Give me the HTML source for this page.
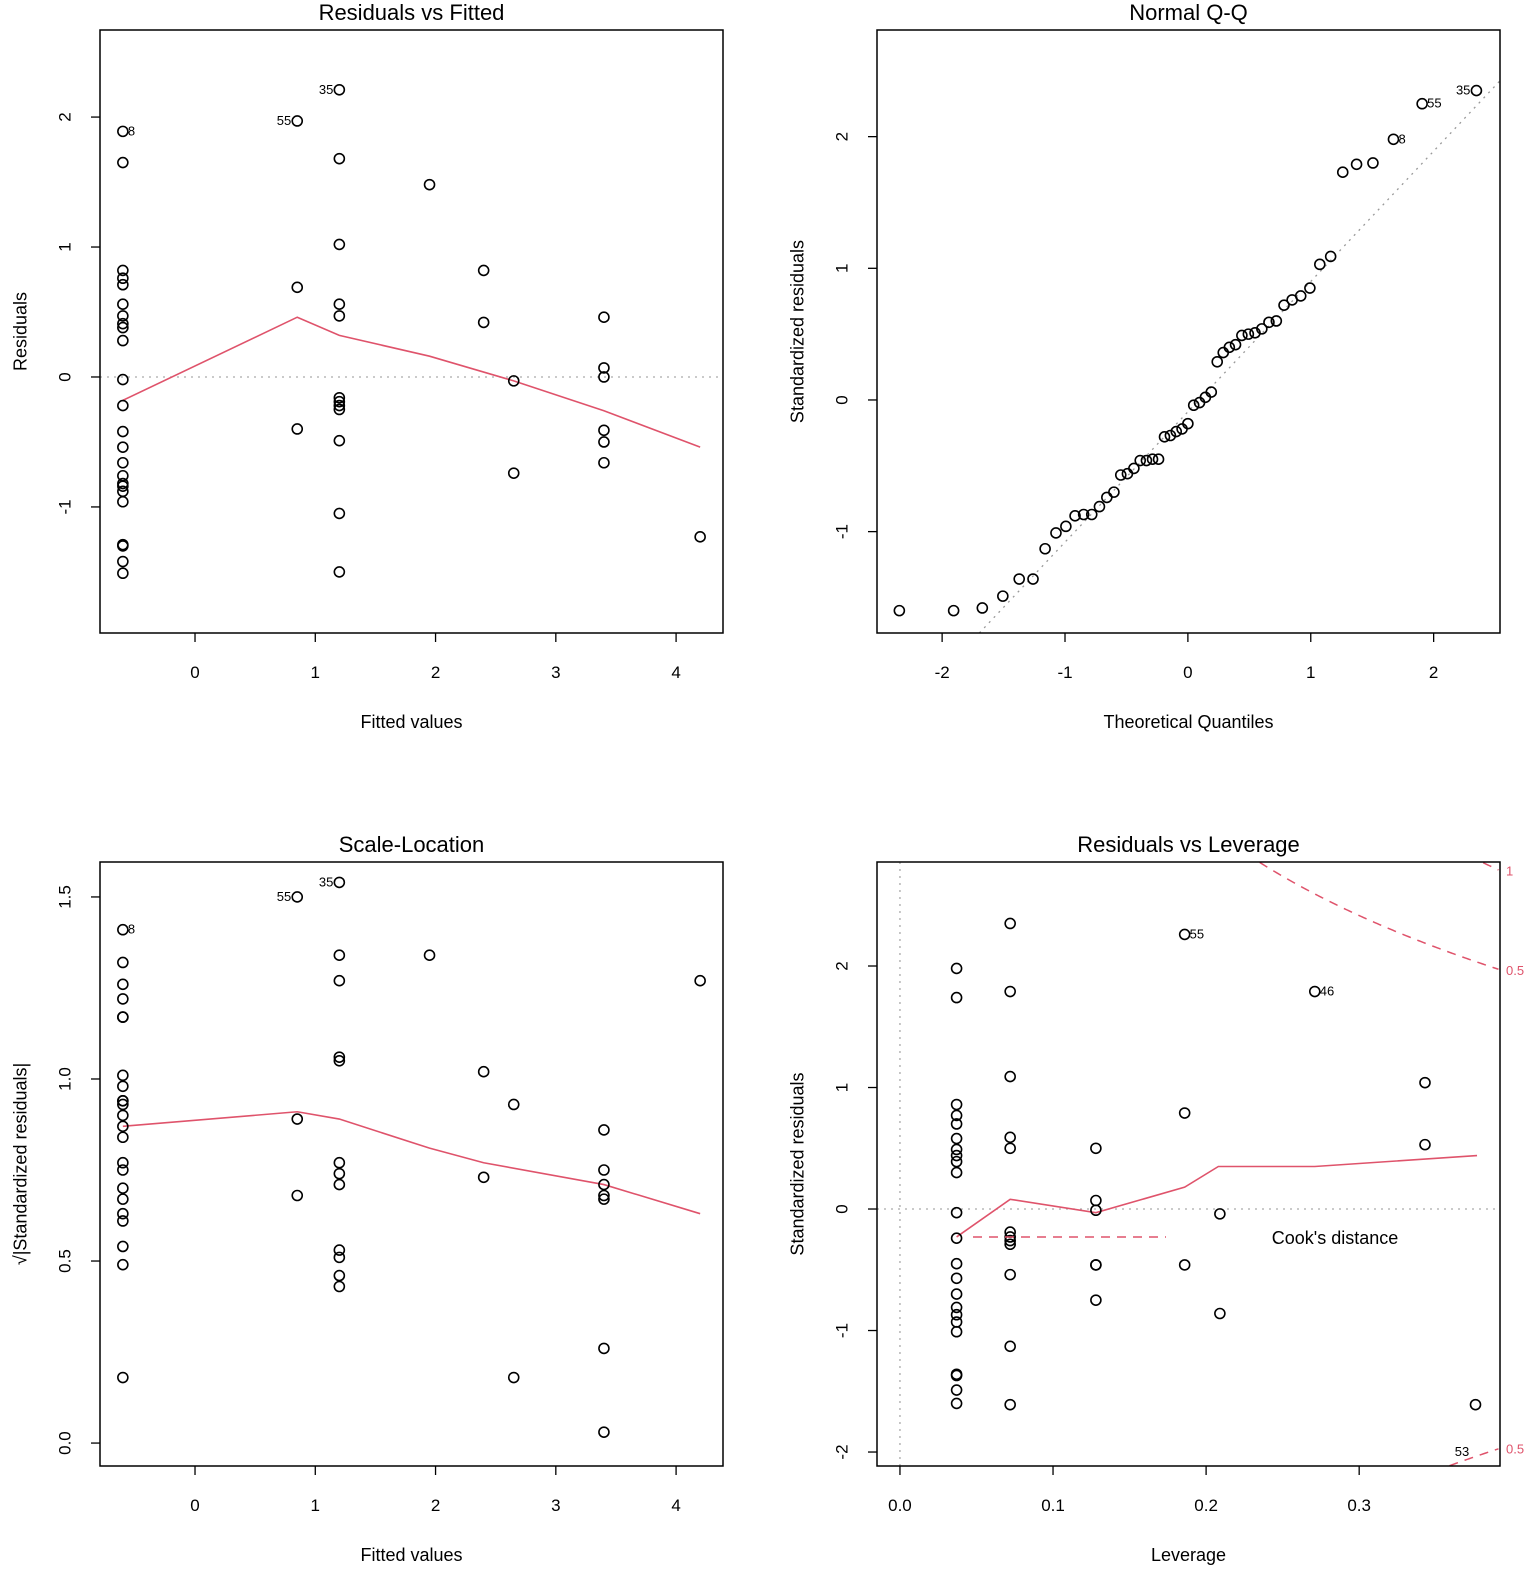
<!DOCTYPE html>
<html><head><meta charset="utf-8">
<style>
html,body{margin:0;padding:0;background:#fff;width:1535px;height:1574px;overflow:hidden;}
svg{display:block;font-family:"Liberation Sans",Arial,sans-serif;}
</style></head>
<body>
<svg id="chart" width="1535" height="1574" viewBox="0 0 1535 1574" overflow="hidden" xmlns="http://www.w3.org/2000/svg"></svg>
<script>
// ---------- Panel 1: Residuals vs Fitted ----------
const rvfFitted = [-0.6,-0.6,-0.6,-0.6,-0.6,-0.6,-0.6,-0.6,-0.6,-0.6,-0.6,-0.6,-0.6,-0.6,-0.6,-0.6,-0.6,-0.6,-0.6,-0.6,-0.6,-0.6,-0.6,-0.6,
  0.85,0.85,0.85,
  1.2,1.2,1.2,1.2,1.2,1.2,1.2,1.2,1.2,1.2,1.2,1.2,
  1.95, 2.4,2.4, 2.65,2.65, 3.4,3.4,3.4,3.4,3.4,3.4, 4.2];
const rvfResid = [1.89,1.65,0.82,0.76,0.71,0.56,0.47,0.41,0.38,0.28,-0.02,-0.22,-0.42,-0.54,-0.66,-0.76,-0.82,-0.84,-0.88,-0.96,-1.29,-1.30,-1.42,-1.51,
  1.97,0.69,-0.40,
  2.21,1.68,1.02,0.56,0.47,-0.16,-0.19,-0.22,-0.25,-0.49,-1.05,-1.50,
  1.48, 0.82,0.42, -0.03,-0.74, 0.46,0.07,0.0,-0.41,-0.50,-0.66, -1.23];
const rvfSmoothX = [-0.6,0.85,1.2,1.95,2.65,3.4,4.2];
const rvfSmoothY = [-0.18,0.46,0.32,0.16,-0.03,-0.26,-0.54];
const rvfLabels = [{i:0,t:"8",side:"r"},{i:24,t:"55",side:"l"},{i:27,t:"35",side:"l"}];

// ---------- Panel 2: Normal Q-Q ----------
const qqStdResid = [-1.60,-1.60,-1.58,-1.49,-1.36,-1.36,-1.13,-1.01,-0.96,-0.88,-0.87,-0.87,-0.81,-0.74,-0.70,-0.57,-0.56,-0.52,-0.46,-0.46,-0.45,-0.45,-0.28,-0.27,-0.24,-0.22,-0.18,-0.04,-0.02,0.02,0.06,0.29,0.36,0.40,0.42,0.49,0.50,0.51,0.54,0.59,0.60,0.72,0.76,0.79,0.85,1.03,1.09,1.73,1.79,1.80,1.98,2.25,2.35];
const qqLineIntercept = -0.09, qqLineSlope = 0.99;

// ---------- Panel 3: Scale-Location ----------
const slFitted = [-0.6,-0.6,-0.6,-0.6,-0.6,-0.6,-0.6,-0.6,-0.6,-0.6,-0.6,-0.6,-0.6,-0.6,-0.6,-0.6,-0.6,-0.6,-0.6,-0.6,-0.6,-0.6,-0.6,
  0.85,0.85,0.85,
  1.2,1.2,1.2,1.2,1.2,1.2,1.2,1.2,1.2,1.2,1.2,1.2,
  1.95, 2.4,2.4, 2.65,2.65, 3.4,3.4,3.4,3.4,3.4,3.4,3.4, 4.2];
const slSqrtStd = [1.41,1.32,1.26,1.22,1.17,1.17,1.01,0.98,0.94,0.94,0.93,0.90,0.87,0.84,0.77,0.75,0.70,0.67,0.63,0.61,0.54,0.49,0.18,
  1.50,0.89,0.68,
  1.54,1.34,1.27,1.06,1.05,0.77,0.74,0.71,0.53,0.51,0.46,0.43,
  1.34, 1.02,0.73, 0.93,0.18, 0.86,0.75,0.71,0.68,0.67,0.26,0.03, 1.27];
const slSmoothX = [-0.6,0.85,1.2,1.95,2.4,3.4,4.2];
const slSmoothY = [0.87,0.91,0.89,0.81,0.77,0.71,0.63];
const slLabels = [{i:0,t:"8",side:"r"},{i:23,t:"55",side:"l"},{i:26,t:"35",side:"l"}];

// ---------- Panel 4: Residuals vs Leverage ----------
const levH = [0.037,0.037,0.037,0.037,0.037,0.037,0.037,0.037,0.037,0.037,0.037,0.037,0.037,0.037,0.037,0.037,0.037,0.037,0.037,0.037,0.037,0.037,0.037,
  0.072,0.072,0.072,0.072,0.072,0.072,0.072,0.072,0.072,0.072,0.072,0.072,
  0.128,0.128,0.128,0.128,0.128,0.128,
  0.186,0.186,0.186, 0.209,0.209, 0.271, 0.343,0.343, 0.376];
const levStd = [1.98,1.74,0.86,0.77,0.70,0.58,0.49,0.44,0.39,0.30,-0.03,-0.24,-0.45,-0.57,-0.70,-0.81,-0.87,-0.93,-1.01,-1.36,-1.37,-1.49,-1.60,
  2.35,1.79,1.09,0.59,0.50,-0.19,-0.23,-0.26,-0.29,-0.54,-1.13,-1.61,
  0.50,0.07,-0.01,-0.46,-0.46,-0.75,
  2.26,0.79,-0.46, -0.04,-0.86, 1.79, 1.04,0.53, -1.61];
const levSmoothX = [0.037,0.072,0.128,0.186,0.208,0.271,0.377];
const levSmoothY = [-0.23,0.08,-0.03,0.18,0.35,0.35,0.44];
const levLabels = [{i:41,t:"55",side:"r"},{i:46,t:"46",side:"r"}];
const cookLevels = [0.5, 1];
const cookP = 5;

// ---------- Ticks ----------
const fittedTicks = [0,1,2,3,4];
const rvfYTicks = [-1,0,1,2];
const qqXTicks = [-2,-1,0,1,2];
const qqYTicks = [-1,0,1,2];
const slYTicks = [0,0.5,1.0,1.5];
const slYTickLabels = ["0.0","0.5","1.0","1.5"];
const levXTicks = [0,0.1,0.2,0.3];
const levXTickLabels = ["0.0","0.1","0.2","0.3"];
const levYTicks = [-2,-1,0,1,2];

const NS = "http://www.w3.org/2000/svg";
const svg = document.getElementById('chart');
const RED = "#DF536B";
function el(tag, attrs, parent, text){
  const e = document.createElementNS(NS, tag);
  for (const k in attrs) e.setAttribute(k, attrs[k]);
  if (text !== undefined) e.textContent = text;
  (parent || svg).appendChild(e);
  return e;
}
function lin(d0,d1,r0,r1){ return v => r0 + (v-d0)/(d1-d0)*(r1-r0); }

function qnorm(p){
  const a=[-3.969683028665376e+01,2.209460984245205e+02,-2.759285104469687e+02,1.383577518672690e+02,-3.066479806614716e+01,2.506628277459239e+00];
  const b=[-5.447609879822406e+01,1.615858368580409e+02,-1.556989798598866e+02,6.680131188771972e+01,-1.328068155288572e+01];
  const c=[-7.784894002430293e-03,-3.223964580411365e-01,-2.400758277161838e+00,-2.549732539343734e+00,4.374664141464968e+00,2.938163982698783e+00];
  const d=[7.784695709041462e-03,3.224671290700398e-01,2.445134137142996e+00,3.754408661907416e+00];
  let q,r;
  if (p<0.02425){ q=Math.sqrt(-2*Math.log(p)); return (((((c[0]*q+c[1])*q+c[2])*q+c[3])*q+c[4])*q+c[5])/((((d[0]*q+d[1])*q+d[2])*q+d[3])*q+1); }
  if (p>1-0.02425){ q=Math.sqrt(-2*Math.log(1-p)); return -(((((c[0]*q+c[1])*q+c[2])*q+c[3])*q+c[4])*q+c[5])/((((d[0]*q+d[1])*q+d[2])*q+d[3])*q+1); }
  q=p-0.5; r=q*q;
  return (((((a[0]*r+a[1])*r+a[2])*r+a[3])*r+a[4])*r+a[5])*q/(((((b[0]*r+b[1])*r+b[2])*r+b[3])*r+b[4])*r+1);
}

function panel(cfg){
  const g = el('g', {});
  
  
  const {x0,x1,y0,y1} = cfg.box;
  const sx = lin(cfg.xd[0], cfg.xd[1], x0, x1);
  const sy = lin(cfg.yd[0], cfg.yd[1], y1, y0);
  const clipId = cfg.name + '-clip';
  const cp = el('clipPath', {id: clipId}, g);
  el('rect', {x:x0, y:y0, width:x1-x0, height:y1-y0}, cp);
  const plot = el('g', {'clip-path':'url(#'+clipId+')'}, g);
  
  
  const t = el('text', {x:(x0+x1)/2, y:y0-10, 'text-anchor':'middle', 'font-size':22, fill:'#000'}, g, cfg.title);
  
  
  const xa = el('g', {}, g);
  
  
  cfg.xt.forEach((v,i) => {
    const px = sx(v);
    el('line', {x1:px, x2:px, y1:y1, y2:y1+9, stroke:'#000', 'stroke-width':1.3}, xa);
    const lab = el('text', {x:px, y:y1+45, 'text-anchor':'middle', 'font-size':17}, xa, cfg.xtl ? cfg.xtl[i] : String(v));
    
    
  });
  const xt = el('text', {x:(x0+x1)/2, y:y1+95, 'text-anchor':'middle', 'font-size':18}, xa, cfg.xlab);
  
  
  const ya = el('g', {}, g);
  
  
  cfg.yt.forEach((v,i) => {
    const py = sy(v);
    el('line', {x1:x0-9, x2:x0, y1:py, y2:py, stroke:'#000', 'stroke-width':1.3}, ya);
    const lx = x0-31;
    const lab = el('text', {x:lx, y:py, 'text-anchor':'middle', 'font-size':17, transform:'rotate(-90 '+lx+' '+py+')', dy:'0.1em'}, ya, cfg.ytl ? cfg.ytl[i] : String(v));
    
    
  });
  const lx = x0-80, ly = (y0+y1)/2;
  const yt = el('text', {x:lx, y:ly, 'text-anchor':'middle', 'font-size':18, transform:'rotate(-90 '+lx+' '+ly+')', dy:'0.35em'}, ya, cfg.ylab);
  
  
  cfg.draw(plot, sx, sy, g);
  el('rect', {x:x0, y:y0, width:x1-x0, height:y1-y0, fill:'none', stroke:'#000', 'stroke-width':1.5}, g);
  return {sx, sy};
}
function points(parent, xs, ys, sx, sy){
  const pg = el('g', {}, parent);
  
  
  xs.forEach((x,i) => {
    const c = el('circle', {cx:sx(x), cy:sy(ys[i]), r:5, fill:'none', stroke:'#000', 'stroke-width':1.6}, pg);
    
    
  });
}
function smooth(parent, xs, ys, sx, sy){
  const p = el('polyline', {points: xs.map((x,i)=>sx(x)+','+sy(ys[i])).join(' '), fill:'none', stroke:RED, 'stroke-width':1.6}, parent);
  
  
}
function labels(parent, list, xs, ys, sx, sy){
  list.forEach(L => {
    const px = sx(xs[L.i]), py = sy(ys[L.i]);
    const t = el('text', {x: L.side==='r' ? px+5 : px-6, y: py+4, 'text-anchor': L.side==='r' ? 'start':'end', 'font-size':13}, parent, L.t);
    
    
  });
}
function hdot(parent, sx, sy, xd, yv){
  const l = el('line', {x1:sx(xd[0]), x2:sx(xd[1]), y1:sy(yv), y2:sy(yv), stroke:'#aaa', 'stroke-width':1.3, 'stroke-dasharray':'2 5'}, parent);
  
  
}

panel({name:'residuals-vs-fitted', title:'Residuals vs Fitted', box:{x0:100,x1:723,y0:30,y1:633},
  xd:[-0.79,4.39], yd:[-1.97,2.67], xt:fittedTicks, yt:rvfYTicks, xlab:'Fitted values', ylab:'Residuals',
  draw:(p,sx,sy,g)=>{ hdot(p,sx,sy,[-0.79,4.39],0); smooth(p,rvfSmoothX,rvfSmoothY,sx,sy); points(p,rvfFitted,rvfResid,sx,sy); labels(g,rvfLabels,rvfFitted,rvfResid,sx,sy); }});

const n = qqStdResid.length;
const qqTheo = qqStdResid.map((v,i)=> qnorm((i+1-0.5)/n));
panel({name:'normal-qq', title:'Normal Q-Q', box:{x0:877,x1:1500,y0:30,y1:633},
  xd:[-2.53,2.54], yd:[-1.77,2.81], xt:qqXTicks, yt:qqYTicks, xlab:'Theoretical Quantiles', ylab:'Standardized residuals',
  draw:(p,sx,sy,g)=>{
    const xlo = Math.max(-2.53, (-1.77-qqLineIntercept)/qqLineSlope);
    const xhi = Math.min(2.54, (2.81-qqLineIntercept)/qqLineSlope);
    const l = el('line', {x1:sx(xlo), x2:sx(xhi), y1:sy(qqLineIntercept+xlo*qqLineSlope), y2:sy(qqLineIntercept+xhi*qqLineSlope), stroke:'#999', 'stroke-width':1.3, 'stroke-dasharray':'2 5'}, p);
    
    
    points(p,qqTheo,qqStdResid,sx,sy);
    labels(g,[{i:n-1,t:"35",side:"l"},{i:n-2,t:"55",side:"r"},{i:n-3,t:"8",side:"r"}],qqTheo,qqStdResid,sx,sy);
  }});

panel({name:'scale-location', title:'Scale-Location', box:{x0:100,x1:723,y0:862,y1:1466},
  xd:[-0.79,4.39], yd:[-0.063,1.596], xt:fittedTicks, yt:slYTicks, ytl:slYTickLabels, xlab:'Fitted values', ylab:'√|Standardized residuals|',
  draw:(p,sx,sy,g)=>{ smooth(p,slSmoothX,slSmoothY,sx,sy); points(p,slFitted,slSqrtStd,sx,sy); labels(g,slLabels,slFitted,slSqrtStd,sx,sy); }});

panel({name:'residuals-vs-leverage', title:'Residuals vs Leverage', box:{x0:877,x1:1500,y0:862,y1:1466},
  xd:[-0.015,0.392], yd:[-2.115,2.856], xt:levXTicks, xtl:levXTickLabels, yt:levYTicks, xlab:'Leverage', ylab:'Standardized residuals',
  draw:(p,sx,sy,g)=>{
    hdot(p,sx,sy,[-0.015,0.392],0);
    const v = el('line', {x1:sx(0), x2:sx(0), y1:sy(2.856), y2:sy(-2.115), stroke:'#aaa', 'stroke-width':1.3, 'stroke-dasharray':'2 5'}, p);
    
    
    cookLevels.forEach(c => {
      [1,-1].forEach(sgn => {
        const pts=[];
        for (let h=0.01; h<=0.392; h+=0.001){
          const yv = sgn*Math.sqrt(c*cookP*(1-h)/h);
          if (yv > 2.856 || yv < -2.115) continue;
          pts.push(sx(h)+','+sy(yv));
        }
        if (pts.length < 2) return;
        const pl = el('polyline', {points:pts.join(' '), fill:'none', stroke:RED, 'stroke-width':1.5, 'stroke-dasharray':'9 7'}, p);
        
        
      });
    });
    smooth(p,levSmoothX,levSmoothY,sx,sy);
    points(p,levH,levStd,sx,sy);
    labels(g,levLabels,levH,levStd,sx,sy);
    const l53 = el('text', {x:1462, y:1456, 'text-anchor':'middle', 'font-size':13}, g, '53');
    
    
    const hR = 0.392;
    [[1,1,'1'],[0.5,1,'0.5'],[0.5,-1,'0.5']].forEach(([c,s,t])=>{
      const tt = el('text', {x:1506, y:sy(s*Math.sqrt(c*cookP*(1-hR)/hR))+5, 'font-size':13, fill:RED}, g, t);
      
      
    });
    const lg = el('g', {}, g);
    
    
    el('line', {x1:973, x2:1166, y1:1237, y2:1237, stroke:RED, 'stroke-width':1.5, 'stroke-dasharray':'9 7'}, lg);
    el('text', {x:1335, y:1244, 'text-anchor':'middle', 'font-size':18}, lg, "Cook's distance");
  }});
</script>
</body></html>
